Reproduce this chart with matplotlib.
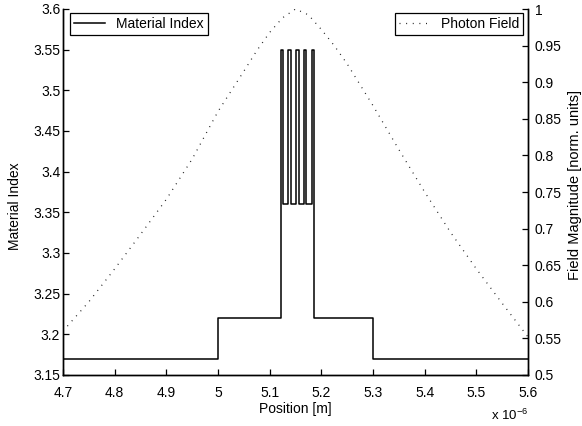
import matplotlib
matplotlib.use("Agg")
import matplotlib.pyplot as plt
from matplotlib.ticker import FixedLocator, FuncFormatter
from matplotlib.lines import Line2D

plt.rcParams['font.family'] = ['Liberation Sans', 'DejaVu Sans']

# Layer boundaries (in units of 1e-6 m) and refractive index of each layer
index_edges = [4.70, 5.00, 5.121, 5.126, 5.136, 5.141, 5.151, 5.156,
               5.166, 5.171, 5.181, 5.186, 5.30, 5.60]
index_vals = [3.17, 3.22, 3.55, 3.36, 3.55, 3.36, 3.55, 3.36,
              3.55, 3.36, 3.55, 3.22, 3.17]

# Normalised field magnitude along the structure
field_pos = [4.70, 4.75, 4.80, 4.85, 4.90, 4.95, 5.00, 5.05, 5.075, 5.10,
             5.125, 5.15, 5.175, 5.20, 5.225, 5.25, 5.30, 5.35, 5.40,
             5.45, 5.50, 5.55, 5.60]
field_vals = [0.560, 0.600, 0.645, 0.692, 0.740, 0.795, 0.860, 0.915, 0.943,
              0.968, 0.988, 1.000, 0.992, 0.972, 0.950, 0.925, 0.868, 0.808,
              0.750, 0.695, 0.645, 0.598, 0.552]

x_ticks = [4.7, 4.8, 4.9, 5.0, 5.1, 5.2, 5.3, 5.4, 5.5, 5.6]
left_ticks = [3.15, 3.2, 3.25, 3.3, 3.35, 3.4, 3.45, 3.5, 3.55, 3.6]
right_ticks = [0.5, 0.55, 0.6, 0.65, 0.7, 0.75, 0.8, 0.85, 0.9, 0.95, 1.0]

FS = 10
DOTTED = (0, (0.8, 4.5))

fig = plt.figure(figsize=(5.82, 4.26), dpi=100)
ax = fig.add_axes([63 / 582, 51 / 426, 465 / 582, 366 / 426])
ax2 = ax.twinx()

fmt = FuncFormatter(lambda v, p: "%g" % round(v, 4))

ax.step(index_edges, index_vals + [index_vals[-1]], where='post',
        color='black', lw=1.1)
ax2.plot(field_pos, field_vals, color='#222222', lw=0.9, linestyle=DOTTED)

ax.set_xlim(4.7, 5.6)
ax.set_ylim(3.15, 3.6)
ax2.set_ylim(0.5, 1.0)

ax.xaxis.set_major_locator(FixedLocator(x_ticks))
ax.yaxis.set_major_locator(FixedLocator(left_ticks))
ax2.yaxis.set_major_locator(FixedLocator(right_ticks))
ax.xaxis.set_major_formatter(fmt)
ax.yaxis.set_major_formatter(fmt)
ax2.yaxis.set_major_formatter(fmt)

for a in (ax, ax2):
    a.spines['top'].set_visible(False)
    for s in a.spines.values():
        s.set_linewidth(1.0)
    a.tick_params(direction='in', length=4, width=0.9, labelsize=FS)
ax.tick_params(axis='x', pad=8)
ax.tick_params(axis='y', pad=2)
ax2.tick_params(axis='y', pad=5)

ax.set_xlabel('Position [m]', fontsize=FS, labelpad=1)
ax.set_ylabel('Material Index', fontsize=FS)
ax2.set_ylabel('Field Magnitude [norm. units]', fontsize=FS + 0.5)
ax.yaxis.set_label_coords(-0.088, 0.46)
ax2.yaxis.set_label_coords(1.087, 0.52)

ax.text(1.0, -0.11, r'x 10$^{\mathregular{-6}}$', transform=ax.transAxes,
        ha='right', va='center', fontsize=FS - 0.5)

leg1 = ax.legend([Line2D([], [], color='black', lw=1.1)], ['Material Index'],
                 loc='upper left', bbox_to_anchor=(0.015, 0.99), fontsize=FS,
                 fancybox=False, framealpha=1, edgecolor='black',
                 handlelength=2.2, borderpad=0.3, borderaxespad=0)
leg1.get_frame().set_linewidth(0.9)
leg2 = ax2.legend([Line2D([], [], color='#222222', lw=0.9, linestyle=DOTTED)],
                  ['Photon Field'], loc='upper right', bbox_to_anchor=(0.99, 0.99),
                  fontsize=FS, fancybox=False, framealpha=1, edgecolor='black',
                  handlelength=2.2, borderpad=0.3, borderaxespad=0)
leg2.get_frame().set_linewidth(0.9)

fig.savefig('out.png', dpi=100)
